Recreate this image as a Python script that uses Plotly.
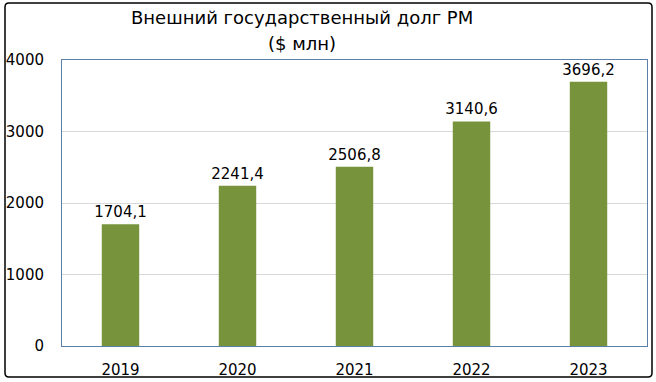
import plotly.graph_objects as go

years = ["2019", "2020", "2021", "2022", "2023"]
debt = [1704.1, 2241.4, 2506.8, 3140.6, 3696.2]
y_ticks = [0, 1000, 2000, 3000, 4000]
title_lines = ["Внешний государственный долг РМ", "($ млн)"]

W, H = 656, 382
L, R, T, B = 62, 9, 60, 36
pw, ph = W - L - R, H - T - B

def px2x(px):
    return (px - L) / pw

def py2y(py):
    return (H - B - py) / ph

fig = go.Figure(go.Bar(
    x=years, y=debt,
    marker=dict(color="#77933c", line=dict(width=0)),
    texttemplate="%{y:.1f}", textposition="outside",
    constraintext="none",
    textfont=dict(family="DejaVu Sans", size=15, color="#000000"),
    cliponaxis=False,
    width=0.32,
))

# outer rounded border
x0, x1, y0, y1 = px2x(5), px2x(652), py2y(377), py2y(3)
rx, ry = 4 / pw, 4 / ph
path = (f"M {x0+rx},{y1} L {x1-rx},{y1} Q {x1},{y1} {x1},{y1-ry} "
        f"L {x1},{y0+ry} Q {x1},{y0} {x1-rx},{y0} L {x0+rx},{y0} "
        f"Q {x0},{y0} {x0},{y0+ry} L {x0},{y1-ry} Q {x0},{y1} {x0+rx},{y1} Z")
fig.add_shape(type="path", xref="paper", yref="paper", path=path,
              line=dict(color="#000000", width=1.5), layer="above")

for txt, cy in zip(title_lines, [18, 43]):
    fig.add_annotation(text=txt, xref="paper", yref="paper",
                       x=px2x(302), y=py2y(cy), xanchor="center", yanchor="middle",
                       showarrow=False,
                       font=dict(family="DejaVu Sans", size=18, color="#000000"))

fig.update_layout(
    width=W, height=H,
    margin=dict(l=L, r=R, t=T, b=B),
    paper_bgcolor="white", plot_bgcolor="white",
    separators=", ",
    showlegend=False,
    font=dict(family="DejaVu Sans", size=15, color="#000000"),
    xaxis=dict(showgrid=False, showline=True, linecolor="#5b7fa6", linewidth=1,
               mirror=True, ticks="", ticklabelstandoff=10, automargin=False,
               tickfont=dict(size=15)),
    yaxis=dict(range=[0, 4000], tickvals=y_ticks, showgrid=True,
               gridcolor="#d9d9d9", gridwidth=1, showline=True,
               linecolor="#5b7fa6", linewidth=1, mirror=True, ticks="",
               ticklabelstandoff=14, zeroline=False, automargin=False,
               tickfont=dict(size=15)),
)

fig.write_html("out.html")
